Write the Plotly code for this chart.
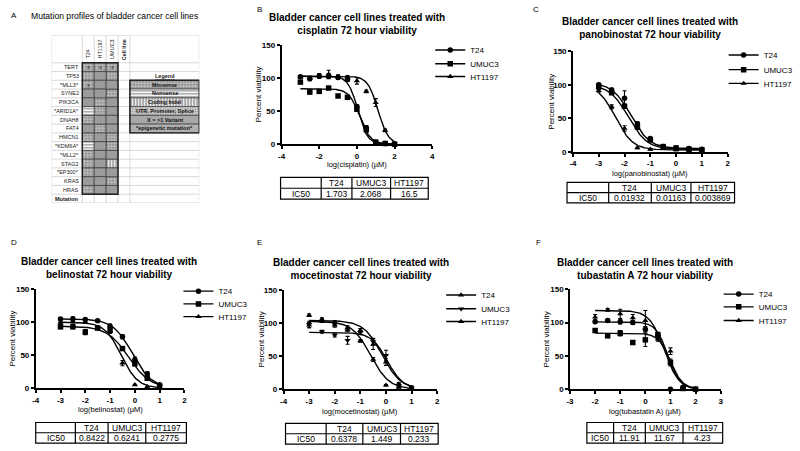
import numpy as np
import plotly.graph_objects as go

W, H = 800, 451
FONT = "Liberation Sans, Arial, sans-serif"

# ---------------- data ----------------
cell_lines = ["T24", "UMUC3", "HT1197"]
y_tick_vals = [0, 50, 100, 150]
y_tick_text = ["0", "50", "100", "150"]

# B: cisplatin
cis_dose = [-3, -2.5, -2, -1.5, -1, -0.5, 0, 0.5, 1, 1.5, 2]
cis_t24 = [102, 99, 103, 103, 101, 98, 57, 25, 3, 1, 0]
cis_t24_err = [2, 3, 3, 4, 3, 3, 3, 3, 1, 1, 0]
cis_umuc3 = [94, 79, 80, 85, 73, 71, 53, 22, 3, 1, 0]
cis_umuc3_err = [2, 3, 2, 2, 2, 2, 3, 3, 1, 0, 0]
cis_ht1197 = [102, 100, 104, 106, 102, 101, 96, 80, 63, 21, 1]
cis_ht1197_err = [2, 3, 3, 6, 3, 3, 5, 2, 6, 2, 0]
cis_ic50 = ["1.703", "2.068", "16.5"]
cis_fit_top = [103, 84, 103]
cis_fit_bottom = [0, 0, 0]
cis_fit_logic50 = [0.05, 0.15, 1.12]
cis_fit_hill = [1.7, 1.5, 1.6]
cis_xticks = [-4, -2, 0, 2, 4]

# C: panobinostat
pan_dose = [-3, -2.5, -2, -1.5, -1, -0.5, 0, 0.5, 1]
pan_t24 = [100, 92, 80, 42, 20, 8, 6, 5, 4]
pan_t24_err = [2, 3, 11, 3, 2, 1, 1, 1, 1]
pan_umuc3 = [97, 88, 68, 37, 18, 8, 6, 4, 3]
pan_umuc3_err = [2, 2, 3, 3, 2, 1, 1, 1, 1]
pan_ht1197 = [91, 67, 35, 6, 4, 5, 3, 3, 2]
pan_ht1197_err = [2, 3, 4, 1, 1, 1, 1, 1, 1]
pan_ic50 = ["0.01932", "0.01163", "0.003869"]
pan_fit_top = [103, 100, 100]
pan_fit_bottom = [5, 4, 3]
pan_fit_logic50 = [-1.75, -1.85, -2.35]
pan_fit_hill = [1.2, 1.2, 1.3]
pan_xticks = [-4, -3, -2, -1, 0, 1, 2]

# D: belinostat
bel_dose = [-3, -2.5, -2, -1.5, -1, -0.5, 0, 0.5, 1]
bel_t24 = [105, 105, 104, 102, 94, 78, 43, 22, 5]
bel_t24_err = [2, 3, 2, 2, 3, 3, 4, 3, 2]
bel_umuc3 = [93, 93, 85, 91, 88, 60, 37, 15, 3]
bel_umuc3_err = [3, 3, 4, 2, 3, 3, 3, 2, 1]
bel_ht1197 = [100, 101, 100, 92, 86, 38, 5, 2, 1]
bel_ht1197_err = [2, 2, 2, 2, 3, 4, 1, 1, 1]
bel_ic50 = ["0.8422", "0.6241", "0.2775"]
bel_fit_top = [105, 94, 100]
bel_fit_bottom = [0, 0, 0]
bel_fit_logic50 = [-0.1, -0.25, -0.55]
bel_fit_hill = [1.1, 1.0, 1.3]
bel_xticks = [-4, -3, -2, -1, 0, 1, 2]

# E: mocetinostat
moc_dose = [-3, -2.5, -2, -1.5, -1, -0.5, 0, 0.5, 1]
moc_t24 = [112, 106, 101, 93, 89, 68, 41, 8, 2]
moc_t24_err = [2, 2, 3, 3, 3, 8, 5, 2, 1]
moc_umuc3 = [98, 87, 82, 74, 86, 72, 51, 5, 2]
moc_umuc3_err = [5, 2, 3, 6, 3, 5, 8, 3, 3]
moc_ht1197 = [97, 103, 97, 90, 73, 45, 6, 3, 1]
moc_ht1197_err = [4, 2, 3, 3, 2, 3, 1, 1, 1]
moc_ic50 = ["0.6378", "1.449", "0.233"]
moc_fit_top = [104, 86, 103]
moc_fit_bottom = [0, 0, 0]
moc_fit_logic50 = [-0.15, 0.05, -0.6]
moc_fit_hill = [1.2, 1.4, 1.2]
moc_xticks = [-4, -3, -2, -1, 0, 1, 2]

# F: tubastatin A
tub_dose = [-2, -1.5, -1, -0.5, 0, 0.5, 1, 1.5, 2]
tub_t24 = [101, 103, 101, 100, 90, 80, 0, 3, 0]
tub_t24_err = [2, 2, 3, 3, 4, 3, 1, 1, 0]
tub_umuc3 = [88, 80, 84, 70, 74, 82, 40, 1, 0]
tub_umuc3_err = [3, 2, 4, 3, 10, 3, 5, 1, 0]
tub_ht1197 = [108, 119, 113, 107, 103, 75, 57, 3, 0]
tub_ht1197_err = [4, 2, 7, 5, 15, 3, 5, 1, 0]
tub_ic50 = ["11.91", "11.67", "4.23"]
tub_fit_top = [101, 84, 118]
tub_fit_bottom = [0, 0, 0]
tub_fit_logic50 = [0.9, 1.0, 0.75]
tub_fit_hill = [1.8, 1.8, 1.5]
tub_xticks = [-3, -2, -1, 0, 1, 2, 3]

# A: mutation table
genes = ["TERT", "TP53", "*MLL3*", "SYNE2", "PIK3CA", "*ARID1A*", "DNAH8", "FAT4",
         "HMCN1", "*KDM6A*", "*MLL2*", "STAG2", "*EP300*", "KRAS", "HRAS"]
table_lines = ["T24", "HT1197", "UMUC3"]
mut_t24 = ["X", "M", "X", "G", "G", "N", "M", "G", "M", "N", "M", "M", "M", "G", "M"]
mut_ht1197 = ["X", "G", "G", "G", "M", "M", "G", "M", "G", "G", "G", "G", "G", "G", "G"]
mut_umuc3 = ["X", "M", "G", "M", "G", "G", "G", "G", "M", "M", "G", "I", "G", "M", "G"]
mut_legend_labels = ["Missense", "Nonsense", "Coding Indel", "UTR, Promoter, Splice",
                     "X = >1 Variant", "*epigenetic mutation*"]
mut_legend_codes = ["M", "N", "I", "U", "V", "E"]

# ---------------- helpers ----------------
def fx(px):
    return px / W

def fy(py):
    return 1 - py / H

fig = go.Figure()
shapes = []
annotations = []
layout = {}

def txt(x, y, s, size=8, bold=False, xanchor="center", yanchor="middle", angle=0,
        xref="paper", yref="paper", family=FONT, color="black"):
    if xref == "paper":
        x, y = fx(x), fy(y)
    annotations.append(dict(x=x, y=y, xref=xref, yref=yref, text=s, showarrow=False,
                            xanchor=xanchor, yanchor=yanchor, textangle=angle,
                            font=dict(family=family, size=size, color=color,
                                      weight="bold" if bold else "normal")))

std_symbols = ["circle", "square", "triangle-up"]
moc_symbols = ["triangle-up", "triangle-down", "triangle-up"]

panels = [
    dict(letter="B", letter_xy=(253, 6), drug="cisplatin", dose=cis_dose,
         vals=[cis_t24, cis_umuc3, cis_ht1197], errs=[cis_t24_err, cis_umuc3_err, cis_ht1197_err],
         ic50=cis_ic50, fit=(cis_fit_top, cis_fit_bottom, cis_fit_logic50, cis_fit_hill),
         xticks=cis_xticks, box=(280, 432, 42, 143), title_xy=(356, 20), xtitle_y=164,
         ytitle_x=257, leg_x=472, leg_y=[47, 61, 74], table=(279, 428, 177, 199, [320, 351, 390]),
         symbols=std_symbols),
    dict(letter="C", letter_xy=(532, 6), drug="panobinostat", dose=pan_dose,
         vals=[pan_t24, pan_umuc3, pan_ht1197], errs=[pan_t24_err, pan_umuc3_err, pan_ht1197_err],
         ic50=pan_ic50, fit=(pan_fit_top, pan_fit_bottom, pan_fit_logic50, pan_fit_hill),
         xticks=pan_xticks, box=(574, 730, 48, 151), title_xy=(652, 24), xtitle_y=172.5,
         ytitle_x=552, leg_x=768, leg_y=[52, 67, 81], table=(568, 737, 182, 203, [610, 653, 693]),
         symbols=std_symbols),
    dict(letter="D", letter_xy=(5, 243), drug="belinostat", dose=bel_dose,
         vals=[bel_t24, bel_umuc3, bel_ht1197], errs=[bel_t24_err, bel_umuc3_err, bel_ht1197_err],
         ic50=bel_ic50, fit=(bel_fit_top, bel_fit_bottom, bel_fit_logic50, bel_fit_hill),
         xticks=bel_xticks, box=(32, 182, 291, 392), title_xy=(106, 269), xtitle_y=414,
         ytitle_x=9, leg_x=218, leg_y=[293, 306, 319], table=(32, 184, 427, 448, [72, 105, 143]),
         symbols=std_symbols),
    dict(letter="E", letter_xy=(253, 243), drug="mocetinostat", dose=moc_dose,
         vals=[moc_t24, moc_umuc3, moc_ht1197], errs=[moc_t24_err, moc_umuc3_err, moc_ht1197_err],
         ic50=moc_ic50, fit=(moc_fit_top, moc_fit_bottom, moc_fit_logic50, moc_fit_hill),
         xticks=moc_xticks, box=(282, 437, 292, 393), title_xy=(360, 270), xtitle_y=416,
         ytitle_x=260, leg_x=483, leg_y=[297, 311, 324], table=(284, 438, 428, 449, [325, 362, 400]),
         symbols=moc_symbols),
    dict(letter="F", letter_xy=(535, 243), drug="tubastatin A", dose=tub_dose,
         vals=[tub_t24, tub_umuc3, tub_ht1197], errs=[tub_t24_err, tub_umuc3_err, tub_ht1197_err],
         ic50=tub_ic50, fit=(tub_fit_top, tub_fit_bottom, tub_fit_logic50, tub_fit_hill),
         xticks=tub_xticks, box=(571, 723, 291, 393), title_xy=(647, 270), xtitle_y=416,
         ytitle_x=547, leg_x=763, leg_y=[296, 309, 323], table=(588, 725, 427, 448, [615, 647, 685]),
         symbols=std_symbols),
]

legend_count = 0
for i, p in enumerate(panels):
    n = i + 1
    xid, yid = f"x{n}", f"y{n}"
    xa = "xaxis" if n == 1 else f"xaxis{n}"
    ya = "yaxis" if n == 1 else f"yaxis{n}"
    L, R, T, B = p["box"]
    axis_common = dict(showline=True, linecolor="black", linewidth=1.6, ticks="outside",
                       ticklen=3, tickwidth=1.6, tickcolor="black", showgrid=False,
                       zeroline=False, fixedrange=True,
                       tickfont=dict(family=FONT, size=8, color="black", weight="bold"))
    layout[xa] = dict(domain=[fx(L), fx(R)], anchor=yid,
                      range=[p["xticks"][0], p["xticks"][-1]],
                      tickvals=p["xticks"], ticktext=[str(v) for v in p["xticks"]],
                      **axis_common)
    layout[ya] = dict(domain=[fy(B), fy(T)], anchor=xid, range=[0, 150],
                      tickvals=y_tick_vals, ticktext=y_tick_text, **axis_common)
    top, bottom, logic50, hill = p["fit"]
    for j in range(3):
        fig.add_trace(go.Scatter(
            x=p["dose"], y=p["vals"][j], mode="markers", xaxis=xid, yaxis=yid,
            marker=dict(symbol=p["symbols"][j], size=5.5, color="black"),
            error_y=dict(type="data", array=p["errs"][j], visible=True, color="black",
                         thickness=1.1, width=2),
            showlegend=False, cliponaxis=False, hoverinfo="skip"))
        xs = np.linspace(p["dose"][0], p["dose"][-1], 200)
        ys = bottom[j] + (top[j] - bottom[j]) / (1 + 10 ** ((xs - logic50[j]) * hill[j]))
        fig.add_trace(go.Scatter(
            x=xs, y=ys, mode="lines", xaxis=xid, yaxis=yid,
            line=dict(color="black", width=1.4), showlegend=False, hoverinfo="skip"))
        legend_count += 1
        lid = "legend" if legend_count == 1 else f"legend{legend_count}"
        fig.add_trace(go.Scatter(
            x=[None], y=[None], mode="lines+markers", xaxis=xid, yaxis=yid,
            name=cell_lines[j], legend=lid,
            marker=dict(symbol=p["symbols"][j], size=5.5, color="black"),
            line=dict(color="black", width=1.4)))
        layout[lid] = dict(x=fx(p["leg_x"] - 42), y=fy(p["leg_y"][j]), xanchor="left",
                           yanchor="middle", bgcolor="rgba(0,0,0,0)", borderwidth=0,
                           itemwidth=30, font=dict(family=FONT, size=8, color="black"),
                           itemclick=False, itemdoubleclick=False)
    # titles
    tx, ty = p["title_xy"]
    txt(tx, ty, f"Bladder cancer cell lines treated with<br>{p['drug']} 72 hour viability",
        size=10, bold=True)
    txt((L + R) / 2, p["xtitle_y"], f"log({p['drug']}) (\u00b5M)", size=7.5)
    txt(p["ytitle_x"], (T + B) / 2, "Percent viability", size=8, angle=-90)
    lx, ly = p["letter_xy"]
    txt(lx, ly, p["letter"], size=8, xanchor="left")
    # IC50 table
    tl, tr, tt, tb, seps = p["table"]
    tm = (tt + tb) / 2
    shapes.append(dict(type="rect", xref="paper", yref="paper", x0=fx(tl), x1=fx(tr),
                       y0=fy(tb), y1=fy(tt), line=dict(color="black", width=1.2)))
    shapes.append(dict(type="line", xref="paper", yref="paper", x0=fx(tl), x1=fx(tr),
                       y0=fy(tm), y1=fy(tm), line=dict(color="black", width=1.2)))
    for s in seps:
        shapes.append(dict(type="line", xref="paper", yref="paper", x0=fx(s), x1=fx(s),
                           y0=fy(tb), y1=fy(tt), line=dict(color="black", width=1.2)))
    edges = [tl] + seps + [tr]
    txt((edges[0] + edges[1]) / 2, (tm + tb) / 2 + 0.5, "IC50", size=8.5)
    for j in range(3):
        cx = (edges[j + 1] + edges[j + 2]) / 2
        txt(cx, (tt + tm) / 2 + 0.5, cell_lines[j], size=8.5)
        txt(cx, (tm + tb) / 2 + 0.5, p["ic50"][j], size=8.5)

# ---------------- panel A table ----------------
col_edges = [0, 31, 43, 55, 67, 79, 149]
header_h = 28
row_h = 143 / 16
tab_w, tab_h = 149, 171
layout["xaxis6"] = dict(domain=[fx(48), fx(197)], range=[0, tab_w], visible=False,
                        fixedrange=True, anchor="y6")
layout["yaxis6"] = dict(domain=[fy(203), fy(32)], range=[tab_h, 0], visible=False,
                        fixedrange=True, anchor="x6")

mut_styles = {
    "M": dict(bg="#c6c6c6", fg="#6e6e6e", shape=".", size=3, sol=0.35),
    "X": dict(bg="#c6c6c6", fg="#6e6e6e", shape=".", size=3, sol=0.35),
    "N": dict(bg="#f4f4f4", fg="#8a8a8a", shape="-", size=3, sol=0.35),
    "I": dict(bg="#f4f4f4", fg="#7a7a7a", shape="|", size=3, sol=0.4),
    "U": dict(bg="#d4d4d4", fg="#8a8a8a", shape=".", size=2.5, sol=0.3),
    "G": dict(bg="#9c9c9c", fg="#9c9c9c", shape="", size=3, sol=0.3),
    "V": dict(bg="#a8a8a8", fg="#a8a8a8", shape="", size=3, sol=0.3),
    "E": dict(bg="#b0b0b0", fg="#b0b0b0", shape="", size=3, sol=0.3),
}
cells = {k: dict(x=[], w=[], base=[], h=[]) for k in mut_styles}
for ci, codes in enumerate([mut_t24, mut_ht1197, mut_umuc3]):
    c0, c1 = col_edges[ci + 1], col_edges[ci + 2]
    for r, code in enumerate(codes):
        cells[code]["x"].append((c0 + c1) / 2)
        cells[code]["w"].append(c1 - c0)
        cells[code]["base"].append(header_h + r * row_h)
        cells[code]["h"].append(row_h)
for k, code in enumerate(mut_legend_codes):
    c0, c1 = col_edges[5], col_edges[6]
    cells[code]["x"].append((c0 + c1) / 2)
    cells[code]["w"].append(c1 - c0)
    cells[code]["base"].append(header_h + (k + 2) * row_h)
    cells[code]["h"].append(row_h)

for code, d in cells.items():
    if not d["x"]:
        continue
    st = mut_styles[code]
    fig.add_trace(go.Bar(
        x=d["x"], y=d["h"], base=d["base"], width=d["w"], xaxis="x6", yaxis="y6",
        marker=dict(color=st["bg"], line=dict(color="#3a3a3a", width=0.7),
                    pattern=dict(shape=st["shape"], fgcolor=st["fg"], bgcolor=st["bg"],
                                 size=st["size"], solidity=st["sol"], fillmode="replace")),
        showlegend=False, hoverinfo="skip"))

grid = dict(color="#cfcfcf", width=0.8)
for e in col_edges:
    shapes.append(dict(type="line", xref="x6", yref="y6", x0=e, x1=e, y0=0, y1=tab_h,
                       line=grid, layer="below"))
shapes.append(dict(type="line", xref="x6", yref="y6", x0=0, x1=tab_w, y0=0, y1=0,
                   line=grid, layer="below"))
for r in range(17):
    yv = header_h + r * row_h
    shapes.append(dict(type="line", xref="x6", yref="y6", x0=0, x1=tab_w, y0=yv, y1=yv,
                       line=grid, layer="below"))
shapes.append(dict(type="rect", xref="x6", yref="y6", x0=col_edges[1], x1=col_edges[4],
                   y0=header_h, y1=header_h + 15 * row_h, line=dict(color="#222", width=1.4)))
shapes.append(dict(type="rect", xref="x6", yref="y6", x0=col_edges[5], x1=col_edges[6],
                   y0=header_h + 2 * row_h, y1=header_h + 8 * row_h,
                   line=dict(color="#222", width=1.4)))

for r, g in enumerate(genes + ["Mutation"]):
    txt(col_edges[1] - 1, header_h + (r + 0.5) * row_h, g, size=5.5, bold=(g == "Mutation"),
        xanchor="right", xref="x6", yref="y6", color="#222")
for ci, nm in enumerate(table_lines):
    txt((col_edges[ci + 1] + col_edges[ci + 2]) / 2, header_h - 2, nm, size=5.5, angle=-90,
        yanchor="bottom", xref="x6", yref="y6", color="#222")
txt((col_edges[4] + col_edges[5]) / 2, 1.5, "Cell line", size=5.5, bold=True, angle=-90,
    yanchor="top", xref="x6", yref="y6", color="#222")
for ci, codes in enumerate([mut_t24, mut_ht1197, mut_umuc3]):
    for r, code in enumerate(codes):
        if code == "X":
            txt((col_edges[ci + 1] + col_edges[ci + 2]) / 2, header_h + (r + 0.5) * row_h,
                "x", size=6, xref="x6", yref="y6", color="#111")
legc = (col_edges[5] + col_edges[6]) / 2
txt(legc, header_h + 1.55 * row_h, "<u>Legend</u>", size=5.5, bold=True,
    xref="x6", yref="y6", color="#222")
for k, lab in enumerate(mut_legend_labels):
    txt(legc, header_h + (k + 2.5) * row_h, lab, size=5.5, bold=True,
        xref="x6", yref="y6", color="#111")

txt(5, 12, "A", size=8, xanchor="left")
txt(25, 12, "Mutation profiles of bladder cancer cell lines", size=8.6, xanchor="left")

fig.update_layout(width=W, height=H, margin=dict(l=0, r=0, t=0, b=0),
                  paper_bgcolor="white", plot_bgcolor="white", barmode="overlay",
                  shapes=shapes, annotations=annotations, **layout)
fig.write_html("out.html", config={"displayModeBar": False},
               post_script="document.body.style.margin='0px';document.body.style.padding='0px';")
